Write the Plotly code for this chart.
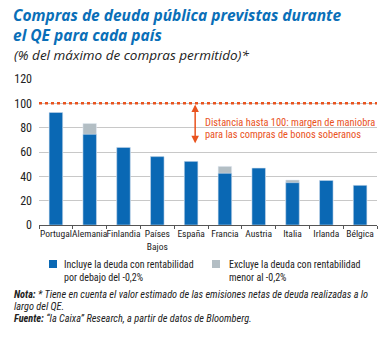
import plotly.graph_objects as go

categories = ["Portugal", "Alemania", "Finlandia", "Países<br>Bajos", "España",
              "Francia", "Austria", "Italia", "Irlanda", "Bélgica"]
incl_values = [92.5, 74.5, 63.8, 56.2, 52.3, 42.5, 46.8, 34.8, 36.6, 32.6]
excl_values = [92.5, 83.5, 63.8, 56.2, 52.3, 48.2, 46.8, 37.0, 36.6, 32.6]
limit_value = 100
arrow_low = 66
y_ticks = [0, 20, 40, 60, 80, 100, 120]

BLUE = "#0A68B4"
GREY = "#B3BEC4"
ORANGE = "#E9531E"
TITLE_BLUE = "#0A6FB8"
FONT = "Liberation Sans Narrow, Roboto Condensed, Roboto, sans-serif"

W, H = 387, 338
L, R, T, B = 39, 10, 79, 113
PW, PH = W - L - R, H - T - B


def px(x):
    return (x - L) / PW


def py(y):
    return (H - B - y) / PH


fig = go.Figure()
fig.add_trace(go.Bar(x=categories, y=excl_values, marker_color=GREY, width=0.4,
                     name="Excluye", showlegend=False))
fig.add_trace(go.Bar(x=categories, y=incl_values, marker_color=BLUE, width=0.4,
                     name="Incluye", showlegend=False))

fig.add_shape(type="line", xref="paper", yref="y", x0=0, x1=1, y0=limit_value, y1=limit_value,
              line=dict(color=ORANGE, width=2.5, dash="dot"))

fig.add_annotation(x=4.12, y=limit_value - 1, ax=4.12, ay=arrow_low, xref="x", yref="y",
                   axref="x", ayref="y", text="", showarrow=True, arrowhead=2,
                   arrowside="end+start", arrowsize=1, arrowwidth=1.5, arrowcolor=ORANGE)


def txt(text, x, y, size, color="#222", xanchor="left", font=FONT):
    fig.add_annotation(text=text, x=px(x), y=py(y), xref="paper", yref="paper",
                       xanchor=xanchor, yanchor="middle", showarrow=False,
                       font=dict(size=size, color=color, family=font), align="left")


txt("Distancia hasta 100: margen de maniobra", 203, 122, 10.4, ORANGE)
txt("para las compras de bonos soberanos", 203, 134, 10.4, ORANGE)

TFONT = "Open Sans, sans-serif"
txt("<b><i>Compras de deuda pública previstas durante<br>el QE para cada país</i></b>",
    11, 25, 15.5, TITLE_BLUE, font=TFONT)
txt("<i>(% del máximo de compras permitido)*</i>", 12, 55, 13.5, "#222", font=TFONT)

# legend
fig.add_shape(type="rect", xref="paper", yref="paper", x0=px(49), x1=px(57), y0=py(268), y1=py(260),
              fillcolor=BLUE, line_width=0)
fig.add_shape(type="rect", xref="paper", yref="paper", x0=px(212), x1=px(220), y0=py(268), y1=py(260),
              fillcolor=GREY, line_width=0)
txt("Incluye la deuda con rentabilidad", 62, 264, 10)
txt("por debajo del -0,2%", 62, 277, 10)
txt("Excluye la deuda con rentabilidad", 227, 264, 10)
txt("menor al -0,2%", 227, 277, 10)

txt("<b><i>Nota:</i></b><i> * Tiene en cuenta el valor estimado de las emisiones netas de deuda realizadas a lo</i>",
    12, 294, 10.3)
txt("<i>largo del QE.</i>", 12, 306, 10.3)
txt("<b><i>Fuente:</i></b><i> “la Caixa” Research, a partir de datos de Bloomberg.</i>", 12, 318, 10.3)

fig.update_layout(
    width=W, height=H, margin=dict(l=L, r=R, t=T, b=B),
    paper_bgcolor="white", plot_bgcolor="white",
    barmode="overlay", bargap=0.6, showlegend=False,
    font=dict(family=FONT, color="#222"),
)
fig.update_xaxes(showline=True, linecolor="#555", linewidth=1, ticks="outside",
                 tickson="boundaries", ticklen=3, tickcolor="#555", tickangle=0,
                 tickfont=dict(size=9.5, family=FONT, color="#222"), showgrid=False)
fig.update_yaxes(range=[0, 120], tickvals=y_ticks, showgrid=True, gridcolor="#C8C8C8",
                 gridwidth=1, zeroline=False, showline=False, ticks="",
                 tickfont=dict(size=12, family=FONT, color="#222"), ticklabelstandoff=6)

fig.write_html("out.html")
